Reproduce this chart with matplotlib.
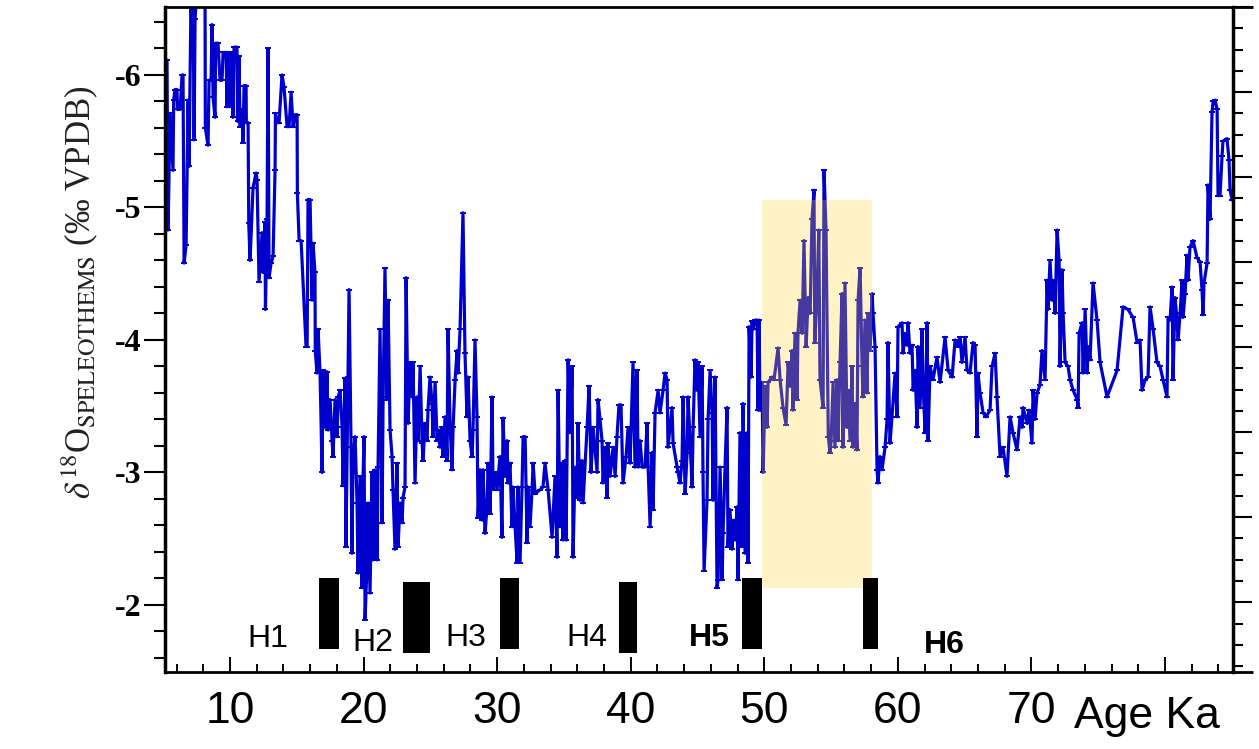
import matplotlib
matplotlib.use("Agg")
import matplotlib.pyplot as plt
from matplotlib.ticker import MultipleLocator, FixedLocator
import matplotlib.transforms as mtransforms

# ---------------- data ----------------
age_ka = [
    5.28, 5.36, 5.51, 5.73, 5.78, 5.88, 6.03, 6.06, 6.26, 6.41,
    6.48, 6.56, 6.71, 6.86, 6.93, 7.08, 7.16, 7.23, 7.31, 7.38,
    7.60, 8.10, 8.13, 8.15, 8.35, 8.43, 8.58, 8.65, 8.73, 8.88,
    8.92, 9.10, 9.25, 9.40, 9.48, 9.70, 9.78, 9.85, 10.00, 10.15,
    10.22, 10.30, 10.52, 10.56, 10.67, 10.75, 10.90, 10.97, 11.05, 11.20,
    11.22, 11.35, 11.40, 11.50, 11.72, 11.95, 12.02, 12.17, 12.40, 12.47,
    12.62, 12.65, 12.77, 12.85, 12.92, 13.07, 13.22, 13.37, 13.40, 13.52,
    13.67, 13.89, 14.04, 14.27, 14.42, 14.57, 14.72, 14.87, 15.02, 15.04,
    15.17, 15.32, 15.69, 15.77, 15.84, 15.99, 16.14, 16.21, 16.36, 16.38,
    16.51, 16.59, 16.74, 16.89, 16.96, 17.11, 17.26, 17.34, 17.49, 17.64,
    17.71, 17.86, 18.01, 18.09, 18.24, 18.39, 18.46, 18.61, 18.68, 18.83,
    18.91, 19.06, 19.13, 19.21, 19.36, 19.51, 19.58, 19.73, 19.88, 19.96,
    20.03, 20.11, 20.26, 20.33, 20.48, 20.63, 20.71, 20.86, 21.01, 21.08,
    21.23, 21.38, 21.46, 21.60, 21.75, 21.83, 21.98, 22.13, 22.20, 22.35,
    22.50, 22.58, 22.73, 22.88, 22.95, 23.10, 23.18, 23.33, 23.48, 23.63,
    23.70, 23.85, 24.00, 24.08, 24.23, 24.38, 24.45, 24.60, 24.75, 24.82,
    24.97, 25.12, 25.20, 25.35, 25.50, 25.57, 25.72, 25.87, 25.95, 26.10,
    26.25, 26.32, 26.47, 26.62, 26.70, 26.85, 27.00, 27.07, 27.22, 27.44,
    27.59, 27.74, 27.82, 27.97, 28.12, 28.19, 28.34, 28.49, 28.57, 28.72,
    28.87, 28.94, 29.09, 29.24, 29.32, 29.47, 29.62, 29.69, 29.84, 29.99,
    30.21, 30.36, 30.44, 30.59, 30.74, 30.81, 30.96, 31.11, 31.19, 31.34,
    31.49, 31.56, 31.71, 31.86, 31.94, 32.09, 32.24, 32.31, 32.46, 32.61,
    32.69, 32.84, 33.21, 33.43, 33.58, 33.81, 34.11, 34.33, 34.48, 34.56,
    34.71, 34.86, 34.93, 35.08, 35.16, 35.31, 35.46, 35.61, 35.68, 35.83,
    35.98, 36.05, 36.20, 36.35, 36.43, 36.73, 36.88, 37.03, 37.18, 37.48,
    37.55, 37.70, 37.85, 37.93, 38.08, 38.23, 38.30, 38.45, 38.68, 38.83,
    38.97, 39.12, 39.27, 39.42, 39.65, 39.80, 39.95, 40.17, 40.32, 40.47,
    40.55, 40.70, 40.85, 41.07, 41.22, 41.30, 41.45, 41.60, 41.67, 41.82,
    42.05, 42.19, 42.42, 42.57, 42.72, 42.79, 43.09, 43.17, 43.47, 43.54,
    43.69, 43.84, 43.92, 44.07, 44.22, 44.29, 44.44, 44.59, 44.67, 44.81,
    44.96, 45.04, 45.19, 45.34, 45.41, 45.49, 45.71, 45.79, 45.94, 46.09,
    46.16, 46.31, 46.46, 46.54, 46.69, 46.84, 46.91, 47.06, 47.21, 47.28,
    47.43, 47.58, 47.66, 47.81, 47.96, 48.03, 48.18, 48.33, 48.41, 48.56,
    48.71, 48.78, 48.86, 49.01, 49.08, 49.16, 49.31, 49.46, 49.53, 49.61,
    49.68, 49.83, 49.91, 50.06, 50.21, 50.28, 50.58, 50.73, 51.03, 51.18,
    51.40, 51.63, 51.78, 51.93, 52.08, 52.15, 52.30, 52.45, 52.52, 52.68,
    52.83, 52.97, 53.13, 53.28, 53.43, 53.57, 53.72, 53.78, 53.93, 54.08,
    54.17, 54.40, 54.47, 54.62, 54.79, 54.92, 55.00, 55.15, 55.29, 55.44,
    55.52, 55.67, 55.82, 55.89, 56.04, 56.19, 56.27, 56.42, 56.57, 56.64,
    56.79, 56.94, 57.02, 57.17, 57.32, 57.39, 57.54, 57.69, 57.77, 57.92,
    58.07, 58.14, 58.29, 58.44, 58.51, 58.66, 58.81, 59.04, 59.19, 59.26,
    59.41, 59.56, 59.79, 59.94, 60.01, 60.31, 60.39, 60.54, 60.69, 60.76,
    60.91, 61.06, 61.14, 61.29, 61.44, 61.51, 61.66, 61.81, 61.89, 62.04,
    62.19, 62.26, 62.41, 62.63, 62.93, 63.16, 63.53, 63.76, 64.06, 64.28,
    64.51, 64.66, 64.80, 65.03, 65.18, 65.40, 65.63, 65.78, 65.93, 66.00,
    66.15, 66.38, 66.60, 66.90, 67.05, 67.28, 67.42, 67.65, 67.87, 68.17,
    68.40, 68.62, 68.92, 69.15, 69.30, 69.37, 69.67, 69.82, 70.04, 70.12,
    70.27, 70.42, 70.64, 70.79, 71.02, 71.17, 71.24, 71.39, 71.54, 71.62,
    71.77, 71.92, 72.07, 72.14, 72.29, 72.37, 72.52, 72.74, 72.89, 73.12,
    73.42, 73.49, 73.57, 73.79, 73.87, 74.02, 74.17, 74.24, 74.39, 74.61,
    74.91, 75.14, 75.66, 76.41, 76.86, 77.23, 77.61, 77.91, 78.13, 78.28,
    78.51, 78.73, 78.88, 79.11, 79.40, 79.63, 79.85, 80.15, 80.23, 80.38,
    80.53, 80.60, 80.75, 80.90, 80.98, 81.13, 81.28, 81.35, 81.50, 81.65,
    81.72, 81.87, 82.10, 82.40, 82.62, 82.77, 82.85, 82.92, 83.15, 83.22,
    83.37, 83.52, 83.60, 83.75, 83.90, 83.97, 84.12, 84.27, 84.34, 84.64,
    84.79, 84.87, 85.02,
]

d18o = [
    -6.11, -4.83, -5.71, -5.28, -5.81, -5.89, -5.89, -5.74, -5.74, -6.00,
    -6.00, -4.58, -4.72, -5.81, -5.31, -6.60, -6.21, -6.60, -5.51, -6.42,
    -6.80, -6.80, -6.51, -5.60, -5.47, -5.96, -5.96, -6.38, -5.83, -5.68,
    -6.24, -6.24, -5.96, -5.96, -6.17, -6.17, -5.76, -6.17, -5.76, -6.17,
    -5.68, -6.21, -6.21, -5.65, -6.14, -5.61, -5.74, -5.49, -5.92, -5.92,
    -5.64, -5.64, -4.88, -4.60, -5.15, -5.26, -5.21, -4.44, -4.81, -4.51,
    -4.89, -4.23, -4.91, -6.20, -4.47, -4.58, -4.63, -5.28, -5.71, -5.64,
    -5.64, -6.00, -5.91, -5.61, -5.61, -5.87, -5.61, -5.70, -5.70, -5.11,
    -4.75, -4.75, -3.95, -3.95, -5.06, -5.06, -4.30, -4.73, -4.51, -3.92,
    -3.75, -4.08, -3.75, -3.00, -3.77, -3.34, -3.76, -3.32, -3.55, -3.24,
    -3.12, -3.55, -3.27, -3.57, -3.62, -3.34, -2.90, -3.71, -2.44, -3.72,
    -4.38, -3.19, -2.39, -3.12, -3.27, -2.77, -2.24, -2.97, -2.13, -2.97,
    -3.27, -1.89, -2.32, -2.77, -2.09, -3.00, -2.34, -3.02, -2.34, -3.04,
    -4.08, -2.62, -3.57, -4.54, -3.55, -4.30, -3.32, -3.12, -2.87, -2.42,
    -3.07, -2.44, -2.77, -2.62, -2.81, -2.89, -4.47, -3.37, -3.83, -3.57,
    -3.83, -2.92, -3.57, -3.24, -3.80, -3.22, -3.09, -3.37, -3.24, -3.47,
    -3.72, -3.52, -3.27, -3.68, -3.24, -3.32, -3.19, -3.34, -3.12, -3.42,
    -3.09, -4.08, -3.37, -3.02, -3.34, -3.70, -3.92, -3.75, -4.08, -4.96,
    -3.90, -3.42, -3.72, -3.24, -3.12, -3.32, -4.00, -3.42, -2.66, -3.02,
    -2.64, -3.02, -2.54, -2.74, -3.07, -2.69, -3.57, -2.87, -3.00, -2.87,
    -3.12, -2.51, -3.41, -2.97, -3.24, -2.92, -3.07, -2.59, -2.89, -2.59,
    -2.32, -2.89, -2.32, -2.89, -3.27, -3.27, -2.47, -2.89, -2.59, -2.87,
    -3.07, -2.84, -2.87, -2.89, -3.07, -2.87, -2.51, -2.97, -2.36, -3.62,
    -2.59, -3.07, -2.49, -3.09, -2.49, -3.85, -3.30, -3.80, -2.36, -3.04,
    -2.81, -3.37, -2.79, -3.09, -2.77, -3.34, -3.65, -3.00, -3.34, -3.00,
    -3.55, -3.40, -3.24, -2.92, -3.19, -2.81, -3.22, -2.97, -3.19, -2.97,
    -3.27, -3.51, -3.51, -2.92, -3.12, -3.34, -3.07, -3.83, -3.04, -3.77,
    -3.04, -3.24, -3.04, -3.04, -3.37, -3.04, -2.59, -3.15, -2.72, -3.45,
    -3.62, -3.45, -3.62, -3.75, -3.70, -3.19, -3.49, -3.22, -3.04, -3.00,
    -2.92, -3.09, -3.57, -2.84, -3.15, -3.57, -3.24, -2.89, -3.34, -3.85,
    -3.62, -3.83, -3.27, -3.80, -3.00, -2.26, -2.79, -3.40, -3.77, -3.45,
    -2.79, -3.72, -2.13, -2.19, -3.04, -2.19, -2.54, -3.04, -3.49, -2.44,
    -2.72, -2.42, -2.64, -2.49, -2.74, -2.19, -3.30, -2.44, -3.52, -2.39,
    -3.30, -2.32, -4.10, -3.72, -4.14, -4.08, -4.15, -4.15, -3.47, -4.15,
    -3.47, -3.68, -3.00, -3.65, -3.34, -3.68, -3.72, -3.70, -3.94, -3.70,
    -3.49, -3.36, -3.83, -3.65, -3.92, -3.47, -4.05, -3.55, -4.05, -4.30,
    -4.05, -4.75, -3.95, -4.32, -4.20, -4.91, -5.13, -3.98, -4.30, -4.83,
    -3.70, -3.49, -5.28, -4.83, -3.27, -3.15, -3.24, -3.68, -3.19, -3.70,
    -3.24, -3.83, -4.35, -3.19, -4.43, -3.34, -3.62, -3.24, -3.80, -3.19,
    -3.52, -3.17, -4.30, -4.54, -3.80, -3.57, -4.15, -3.60, -4.20, -3.92,
    -4.35, -4.20, -3.95, -3.02, -2.92, -3.12, -3.02, -3.19, -3.40, -3.98,
    -3.22, -3.42, -3.75, -3.42, -4.10, -4.13, -3.90, -4.05, -3.96, -4.13,
    -3.90, -3.96, -3.62, -3.77, -3.34, -3.95, -3.49, -4.08, -3.65, -3.30,
    -4.13, -3.24, -3.80, -3.70, -3.87, -3.68, -4.02, -3.77, -3.72, -4.00,
    -3.95, -4.02, -3.83, -4.02, -3.77, -3.75, -3.98, -3.96, -3.27, -3.75,
    -3.60, -3.45, -3.42, -3.47, -3.80, -3.90, -3.57, -3.12, -3.19, -2.97,
    -3.42, -3.30, -3.17, -3.42, -3.34, -3.49, -3.37, -3.47, -3.22, -3.62,
    -3.40, -3.60, -3.66, -3.92, -3.70, -4.45, -4.23, -4.60, -4.30, -4.45,
    -4.20, -4.83, -4.60, -3.80, -4.53, -4.20, -3.83, -3.80, -3.70, -3.62,
    -3.55, -3.49, -4.05, -4.13, -3.75, -4.23, -3.75, -3.95, -3.85, -4.43,
    -4.15, -3.83, -3.57, -3.77, -4.25, -4.23, -4.17, -3.98, -4.00, -3.62,
    -3.70, -3.72, -4.25, -4.08, -3.83, -3.80, -3.70, -3.57, -4.17, -4.15,
    -4.40, -3.70, -4.32, -4.15, -4.00, -4.20, -4.45, -4.17, -4.35, -4.64,
    -4.45, -4.70, -4.75, -4.62, -4.59, -4.38, -4.19, -4.43, -4.58, -5.17,
    -4.91, -5.72, -5.80, -5.81, -5.74, -5.09, -5.09, -5.39, -5.50, -5.52,
    -5.36, -5.13, -5.06,
]

# Heinrich events (ka)
event_names = ["H1", "H2", "H3", "H4", "H5", "H6"]
event_start = [16.66, 22.95, 30.21, 39.12, 48.33, 57.39]
event_end = [18.16, 24.97, 31.64, 40.47, 49.83, 58.51]

# highlighted interval (ka)
shade_start, shade_end = 49.86, 58.06

x_tick_values = [10, 20, 30, 40, 50, 60, 70, 80]
x_tick_labels = ["10", "20", "30", "40", "50", "60", "70", ""]
y_tick_values = [-6, -5, -4, -3, -2]
y_tick_labels = ["-6", "-5", "-4", "-3", "-2"]

# ---------------- layout / style ----------------
bar_top = [-2.20, -2.17, -2.20, -2.17, -2.20, -2.20]
bar_bottom = [-1.67, -1.64, -1.67, -1.64, -1.67, -1.67]
label_x = [12.84, 20.69, 27.67, 36.73, 45.86, 63.45]
label_y = [-1.74, -1.71, -1.75, -1.75, -1.75, -1.70]
label_bold = [False, False, False, False, True, True]
shade_top, shade_bottom = -5.06, -2.13

plt.rcParams["mathtext.fontset"] = "stix"

fig = plt.figure(figsize=(12.59, 7.49), dpi=100)
ax = fig.add_axes([165 / 1259, 1 - 672 / 749, (1233 - 165) / 1259, (672 - 7) / 749])

ax.plot(age_ka, d18o, color="#0000CD", lw=2.3, marker="_", ms=5, mew=1.4, zorder=2)

# highlighted interval drawn semi-transparent above the curve
ax.bar(shade_start, shade_bottom - shade_top, width=shade_end - shade_start,
       bottom=shade_top, align="edge", color=(1.0, 0.827, 0.157), alpha=0.275,
       lw=0, zorder=3)

ax.bar(event_start, [b - t for b, t in zip(bar_bottom, bar_top)],
       width=[e - s for s, e in zip(event_start, event_end)], bottom=bar_top,
       align="edge", color="black", lw=0, zorder=4)

for name, lx, ly, bold in zip(event_names, label_x, label_y, label_bold):
    ax.text(lx, ly, name, ha="center", va="center", fontsize=23,
            family="Liberation Sans", fontweight="bold" if bold else "normal",
            zorder=5)

ax.set_xlim(5.13, 85.09)
ax.set_ylim(-1.494, -6.513)

ax.xaxis.set_major_locator(FixedLocator(x_tick_values))
ax.set_xticklabels(x_tick_labels)
ax.xaxis.set_minor_locator(MultipleLocator(2))
ax.yaxis.set_major_locator(FixedLocator(y_tick_values))
ax.set_yticklabels(y_tick_labels)
ax.yaxis.set_minor_locator(MultipleLocator(0.2))

ax.tick_params(axis="x", which="both", direction="in", top=False, bottom=True,
               width=1.4, color="black")
ax.tick_params(axis="x", which="major", length=11, pad=14, labelsize=32)
ax.tick_params(axis="x", which="minor", length=6)
for lab in ax.get_xticklabels():
    lab.set_family("Liberation Sans")

ax.tick_params(axis="y", which="both", direction="out", left=True, right=False,
               width=1.5, color="black")
ax.tick_params(axis="y", which="major", length=15, pad=2, labelsize=23)
ax.tick_params(axis="y", which="minor", length=8)
for lab in ax.get_yticklabels():
    lab.set_family("Liberation Serif")
    lab.set_fontweight("bold")

ax.spines["left"].set_linewidth(2.5)
ax.spines["bottom"].set_linewidth(2.0)
ax.spines["top"].set_linewidth(2.0)
ax.spines["right"].set_visible(False)

# extensions of the top and bottom frame lines past the right axis
ext = (1253 - 165) / (1233 - 165)
ax.plot([1, ext], [0, 0], transform=ax.transAxes, color="black", lw=2.0,
        clip_on=False, solid_capstyle="butt")
ax.plot([1, ext], [1, 1], transform=ax.transAxes, color="black", lw=2.0,
        clip_on=False, solid_capstyle="butt")

# right-hand axis (unlabelled scale)
ax2 = ax.twinx()
ax2.set_ylim(7.82, 0)
ax2.yaxis.set_major_locator(MultipleLocator(1))
ax2.yaxis.set_minor_locator(MultipleLocator(0.25))
ax2.tick_params(axis="y", which="both", direction="out", right=True, left=False,
                labelright=False, width=1.5)
ax2.tick_params(axis="y", which="major", length=14)
ax2.tick_params(axis="y", which="minor", length=7)
for s in ["left", "top", "bottom"]:
    ax2.spines[s].set_visible(False)
ax2.spines["right"].set_linewidth(2.5)

ax.set_ylabel(r"$\delta^{18}$O$_{\mathrm{SPELEOTHEMS}}$ (‰ VPDB)", fontsize=25,
              family="Liberation Serif", color="#222222")
ax.yaxis.set_label_coords(-0.061, 0.571)

trans = mtransforms.blended_transform_factory(ax.transData, ax.transAxes)
ax.text(73.2, -0.036, "Age Ka", transform=trans, ha="left", va="top",
        fontsize=32, family="Liberation Sans")

fig.savefig("out.png", dpi=100)
